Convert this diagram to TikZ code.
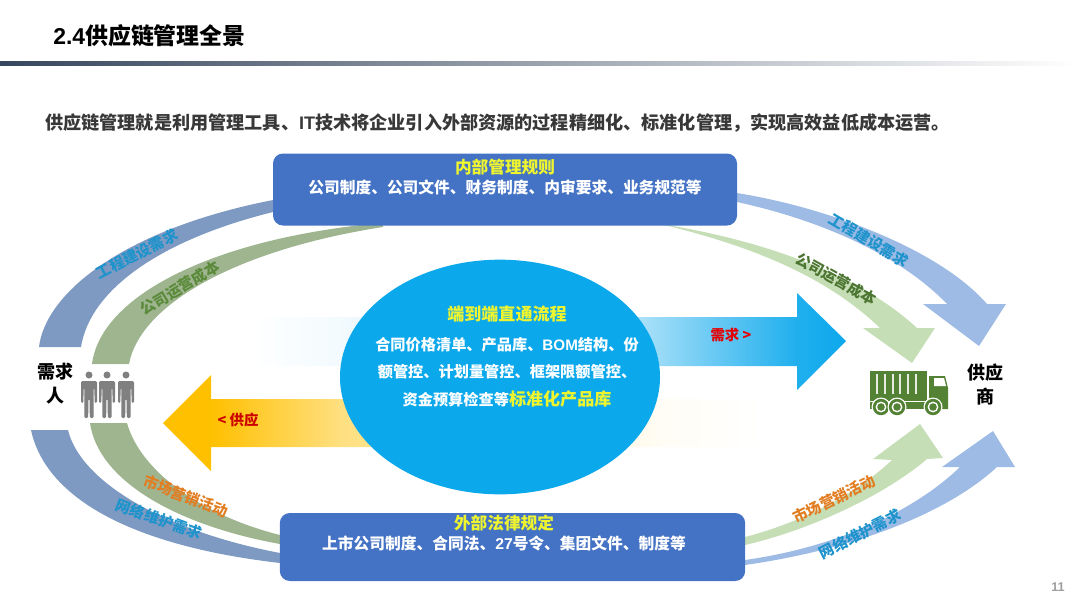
\documentclass[tikz,border=0pt]{standalone}
\usepackage{fontspec}
\usetikzlibrary{arrows.meta,positioning,shapes.geometric}
\setmainfont{Noto Sans CJK SC}
\newfontfamily\latinf{Liberation Sans}
\definecolor{scblue}{HTML}{4472C4}
\definecolor{scsky}{HTML}{0CA8EC}
\definecolor{scyellow}{HTML}{EEF52E}
\definecolor{scgold}{HTML}{FFC000}
\definecolor{bandblueL}{HTML}{7E9AC2}
\definecolor{bandgreenL}{HTML}{9EB58F}
\definecolor{bandblueR}{HTML}{9DBBE4}
\definecolor{bandgreenR}{HTML}{C5DEB5}
\definecolor{txtblue}{HTML}{1E93CC}
\definecolor{txtgreen}{HTML}{5A8A3A}
\definecolor{txtorange}{HTML}{E27D22}
\definecolor{truckgreen}{HTML}{548235}
\definecolor{rulenavy}{HTML}{36465C}
\pgfdeclarehorizontalshading{needfade}{100bp}{color(0bp)=(white); color(25bp)=(white); color(32.5bp)=(white!95!scsky); color(57.7bp)=(white!65!scsky); color(70.9bp)=(white!8!scsky); color(75bp)=(scsky); color(100bp)=(scsky)}
\pgfdeclarehorizontalshading{supplyfade}{100bp}{color(0bp)=(scgold); color(29bp)=(scgold); color(39.8bp)=(white!50!scgold); color(55bp)=(white!75!scgold); color(66.6bp)=(white!96!scgold); color(75bp)=(white); color(100bp)=(white)}

\begin{document}
\begin{tikzpicture}[x=0.75pt, y=-0.75pt,
    every node/.style={inner sep=0pt, font=\bfseries},
    bigbox/.style={draw=none, fill=scblue, rounded corners=7.5pt, minimum width=348pt, minimum height=54pt},
    boxhead/.style={text=scyellow, font=\bfseries\fontsize{12.5}{15}\selectfont},
    boxtext/.style={text=white, font=\bfseries\fontsize{11.8}{15}\selectfont},
    bandtext/.style={font=\bfseries\fontsize{11.2}{14}\selectfont},
    endtext/.style={text=black, align=center, font=\bfseries\fontsize{13.5}{18}\selectfont}]
      \useasboundingbox (0,0) rectangle (1080,608);

      % Heading
      \node[anchor=west, font=\bfseries\fontsize{17.2}{20}\selectfont] (title) at (53,36) {{\latinf 2.4}供应链管理全景};
      \shade[left color=rulenavy, right color=white] (0,61) rectangle (1078,65);
      \node[anchor=west, text=black!78, font=\bfseries\fontsize{13.6}{16}\selectfont] (intro) at (45,123) {供应链管理就是利用管理工具、{\latinf IT}技术将企业引入外部资源的过程精细化、标准化管理\char"FF0C 实现高效益低成本运营。};

      % Bands on the left
      \fill[bandblueL] (39,347) .. controls (45,295) and (120,230) .. (273,200) -- (290,200) -- (290,212) -- (273,212) .. controls (160,240) and (90,290) .. (81,347) -- cycle;
      \fill[bandgreenL] (92,364) .. controls (100,300) and (200,245) .. (353,226) -- (383,222) -- (383,227) .. controls (235,250) and (140,305) .. (129,364) -- cycle;
      \fill[bandblueL] (31,430) .. controls (45,495) and (125,545) .. (280,563) -- (295,563) -- (295,553) -- (280,553) .. controls (160,530) and (80,480) .. (68,430) -- cycle;
      \fill[bandgreenL] (90,423) .. controls (98,480) and (175,525) .. (280,544) -- (295,544) -- (295,535) -- (280,535) .. controls (200,515) and (140,470) .. (127,423) -- cycle;

      % Bands on the right
      \fill[bandblueR] (725,193) -- (737,193) .. controls (830,208) and (940,250) .. (987,304) -- (1006,304) -- (979,346) -- (923,304) -- (947,304) .. controls (900,255) and (820,220) .. (737,202) -- (725,202) -- cycle;
      \fill[bandgreenR] (640,221) .. controls (760,237) and (860,275) .. (917,328) -- (935,328) -- (912,363) -- (863,328) -- (880,328) .. controls (835,285) and (770,250) .. (660,224) -- cycle;
      \fill[bandgreenR] (730,537) -- (745,537) .. controls (810,520) and (860,490) .. (892,460) -- (873,459) -- (920,424) -- (943,458) -- (927,459) .. controls (885,495) and (810,530) .. (745,545) -- (730,545) -- cycle;
      \fill[bandblueR] (730,560) -- (745,560) .. controls (830,548) and (910,515) .. (960,467) -- (942,467) -- (993,431) -- (1015,467) -- (997,467) .. controls (945,515) and (850,550) .. (745,565) -- (730,565) -- cycle;

      % Middle arrows
      \shade[shading=needfade] (250,317) -- (797,317) -- (797,293) -- (846,341) -- (797,390) -- (797,366) -- (250,366) -- cycle;
      \shade[shading=supplyfade] (760,399) -- (211,399) -- (211,375) -- (163,423) -- (211,471) -- (211,447) -- (760,447) -- cycle;

      % Boxes and oval
      \node[bigbox] (inner) at (505,189.5) {};
      \node[bigbox, minimum width=349pt, minimum height=51pt] (outer) at (512.5,547) {};
      \node[ellipse, fill=scsky, minimum width=240pt, minimum height=176pt] (flow) at (500,377) {};

      % Box texts
      \node[boxhead] (innerhead) at (505,167) {内部管理规则};
      \node[boxtext] (innertext) at (505,187) {公司制度、公司文件、财务制度、内审要求、业务规范等};
      \node[boxhead] (outerhead) at (504,523) {外部法律规定};
      \node[boxtext] (outertext) at (504,543) {上市公司制度、合同法、{\latinf 27}号令、集团文件、制度等};

      % Oval texts
      \node[text=scyellow, font=\bfseries\fontsize{12.8}{15}\selectfont] (flowhead) at (507,314) {端到端直通流程};
      \node[text=white, align=center, font=\bfseries\fontsize{11.4}{20.6}\selectfont] (flowtext) at (507,372) {合同价格清单、产品库、{\latinf BOM}结构、份\\额管控、计划量管控、框架限额管控、\\资金预算检查等{\color{scyellow}\fontsize{12.8}{20.6}\selectfont 标准化产品库}};

      % Arrow labels
      \node[text=red!90!black, font=\bfseries\fontsize{10.8}{13}\selectfont] (needlabel) at (731,335) {需求 >};
      \node[text=red!80!black, font=\bfseries\fontsize{10.8}{13}\selectfont] (supplylabel) at (238,420) {< 供应};

      % Band labels
      \node[bandtext, text=txtblue, rotate=27.5] (l1) at (137,254) {工程建设需求};
      \node[bandtext, text=txtgreen, rotate=31] (l2) at (180,288) {公司运营成本};
      \node[bandtext, text=txtorange, rotate=-21] (l3) at (186,496) {市场营销活动};
      \node[bandtext, text=txtblue, rotate=-20] (l4) at (159,519) {网络维护需求};
      \node[bandtext, text=txtblue, rotate=-30.5] (r1) at (869,240) {工程建设需求};
      \node[bandtext, text=txtgreen!85!black, rotate=-29] (r2) at (836,279) {公司运营成本};
      \node[bandtext, text=txtorange, rotate=26] (r3) at (834,499) {市场营销活动};
      \node[bandtext, text=txtblue, rotate=27] (r4) at (860,534) {网络维护需求};

      % End labels
      \node[endtext] (buyer) at (55,384) {需求\\人};
      \node[endtext] (vendor) at (985,384) {供应\\商};

      % People
      \foreach \px in {89,107,126} {
        \fill[black!50] (\px,375) circle (3.5);
        \fill[black!50, rounded corners=1pt, shift={(\px,0)}] (-8,381) -- (8,381) -- (8,403) -- (5.6,403) -- (5.4,388) -- (4.6,388) -- (4.6,418) -- (0.8,418) -- (0.6,399) -- (-0.6,399) -- (-0.8,418) -- (-4.6,418) -- (-4.6,388) -- (-5.4,388) -- (-5.6,403) -- (-8,403) -- cycle;
      }

      % Truck
      \fill[truckgreen] (870,371) rectangle (927,400);
      \foreach \sx in {877,885,893,900,908,916}
        \fill[white!85!truckgreen] (\sx-0.7,374) rectangle (\sx+0.7,394);
      \fill[truckgreen] (870,400) rectangle (948,409);
      \fill[truckgreen] (929,376) -- (945,376) -- (948,388) -- (948,409) -- (929,409) -- cycle;
      \fill[white] (934,378) -- (944,378) -- (946,386) -- (934,386) -- cycle;
      \fill[white] (870,400.5) rectangle (929,401.7);
      \foreach \wx in {881,897,933} {
        \fill[white] (\wx,407) circle (9.5);
        \fill[truckgreen] (\wx,407) circle (8.2);
        \fill[white] (\wx,407) circle (5.4);
        \fill[truckgreen] (\wx,407) circle (3.8);
      }

      % Page number
      \node[text=black!38, font=\bfseries\fontsize{9.5}{12}\selectfont\latinf] (pageno) at (1058,587) {11};
\end{tikzpicture}
\end{document}
